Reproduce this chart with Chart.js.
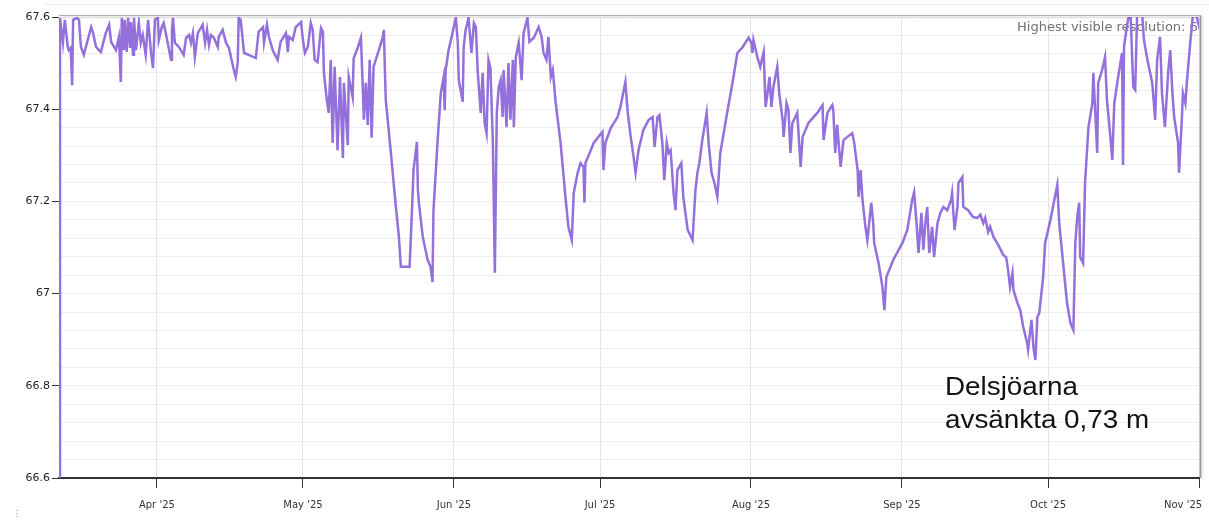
<!DOCTYPE html>
<html>
<head>
<meta charset="utf-8">
<script src="https://cdn.jsdelivr.net/npm/chart.js@4/dist/chart.umd.min.js"></script>
<style>
html, body { margin: 0; padding: 0; background: #fff; overflow: hidden; }
#wrap { position: relative; width: 1209px; height: 521px; }
</style>
</head>
<body>
<div id="wrap"><canvas id="nivaChart" width="1209" height="521"></canvas></div>
<script>
// dag på året 2025 (1 jan = 0)
const dagar = [
70.1,70.1,70.7,71.1,71.7,71.9,72.3,72.6,72.8,73.6,
74.0,74.4,75.0,75.8,76.5,76.9,77.5,78.5,79.5,80.2,
80.6,81.6,82.2,82.6,82.8,83.2,83.4,83.8,84.1,84.5,
84.7,85.1,85.3,85.7,86.3,86.7,87.1,87.7,88.2,88.8,
89.2,89.6,90.2,90.4,91.0,91.4,91.9,92.9,93.1,93.3,
93.7,94.5,95.5,96.0,96.6,97.0,97.4,97.8,98.4,98.8,
99.4,99.9,100.3,100.7,101.1,101.7,102.5,102.7,103.5,104.2,
104.8,105.8,106.2,106.6,106.8,107.2,107.9,110.3,110.9,111.8,
112.0,112.6,113.0,113.8,114.8,115.4,116.5,116.9,117.1,117.9,
118.5,119.6,120.0,120.4,121.0,121.6,122.0,122.4,123.0,123.7,
124.1,124.3,124.9,125.3,125.7,126.1,126.5,127.1,127.6,128.2,
128.4,129.2,129.4,130.2,130.4,131.3,131.9,132.3,132.5,132.9,
133.3,133.7,134.1,134.5,135.4,135.8,136.4,136.6,137.0,138.0,
139.0,139.7,140.1,141.1,141.9,142.5,142.7,143.4,143.6,143.8,
144.6,145.6,146.2,146.6,146.8,147.7,148.3,148.9,149.1,149.3,
149.9,150.7,151.4,151.8,152.0,152.8,153.0,153.4,154.0,154.6,
155.1,155.5,155.9,156.5,156.9,157.3,157.7,158.1,158.5,159.0,
159.4,159.8,160.2,160.6,161.0,161.2,161.8,162.2,162.6,163.1,
163.3,163.7,164.3,164.9,165.3,166.1,166.5,167.4,168.4,169.0,
169.4,170.0,170.4,170.9,171.3,171.9,172.9,173.9,174.5,175.2,
175.6,176.4,177.0,177.6,177.8,178.0,179.1,179.7,181.5,181.7,
182.1,183.2,184.6,185.2,186.2,186.7,187.3,187.9,188.3,188.9,
189.9,191.0,191.8,192.2,192.8,193.2,193.8,194.2,194.7,195.1,
195.5,196.1,196.5,196.9,197.7,198.1,199.0,200.0,200.6,201.0,
201.4,202.0,202.9,203.3,203.9,204.5,205.1,205.7,207.2,208.2,
209.2,210.3,211.5,212.1,212.3,212.5,213.3,213.9,214.6,215.0,
215.4,215.8,216.2,216.6,217.4,217.8,218.5,218.7,219.3,219.7,
220.1,220.5,221.5,222.2,222.6,223.8,225.6,226.7,226.9,227.7,
228.7,228.9,229.3,229.7,230.4,231.0,231.8,232.8,233.2,233.9,
234.1,234.5,234.9,235.5,235.9,236.7,237.1,237.3,238.2,239.0,
239.4,239.8,241.2,243.1,244.1,245.1,245.5,246.0,246.4,247.0,
247.4,247.8,248.2,248.6,249.2,249.6,250.3,250.9,251.5,252.3,
253.1,253.3,253.8,254.4,254.6,255.4,255.6,256.6,257.6,258.5,
259.1,259.7,260.1,260.7,261.1,261.8,262.8,263.8,264.4,264.8,
265.2,265.7,265.9,266.7,267.3,267.9,268.7,268.9,269.6,270.0,
270.4,270.8,271.2,272.0,272.4,273.5,274.9,275.3,276.1,276.9,
277.6,278.2,278.6,279.0,279.4,279.6,280.2,280.6,281.3,282.1,
282.3,282.7,283.1,283.3,284.1,284.7,285.1,285.8,286.2,286.6,
287.4,288.2,288.4,288.6,289.3,289.9,290.5,290.9,291.3,292.3,
292.7,293.4,294.4,295.0,295.4,296.0,296.4,297.0,297.7,298.1,
298.5,298.9,299.7,299.9,300.5,300.7,301.2,301.6,302.2,302.8,
303.6,304.2
];

// vattennivå (m)
const niva = [
66.600,67.598,67.544,67.594,67.535,67.528,67.533,67.452,67.594,67.598,
67.594,67.535,67.518,67.550,67.578,67.565,67.535,67.524,67.565,67.583,
67.546,67.528,67.557,67.459,67.598,67.528,67.594,67.524,67.598,67.533,
67.589,67.518,67.598,67.528,67.587,67.544,67.561,67.518,67.594,67.522,
67.489,67.594,67.598,67.550,67.578,67.587,67.561,67.507,67.572,67.598,
67.544,67.535,67.518,67.555,67.561,67.544,67.565,67.513,67.565,67.572,
67.583,67.544,67.572,67.539,67.561,67.555,67.535,67.557,67.572,67.544,
67.533,67.485,67.470,67.500,67.598,67.594,67.522,67.511,67.568,67.578,
67.544,67.583,67.557,67.528,67.507,67.546,67.565,67.524,67.557,67.550,
67.578,67.589,67.550,67.522,67.535,67.587,67.572,67.507,67.502,67.576,
67.568,67.479,67.420,67.392,67.507,67.327,67.492,67.311,67.470,67.294,
67.457,67.322,67.470,67.426,67.510,67.535,67.555,67.442,67.377,67.457,
67.366,67.507,67.338,67.492,67.522,67.535,67.557,67.572,67.420,67.311,
67.197,67.123,67.058,67.058,67.058,67.210,67.268,67.329,67.225,67.197,
67.123,67.073,67.058,67.025,67.181,67.340,67.435,67.470,67.398,67.485,
67.528,67.565,67.598,67.544,67.463,67.416,67.535,67.572,67.598,67.522,
67.587,67.578,67.479,67.392,67.479,67.370,67.348,67.507,67.489,67.327,
67.045,67.392,67.448,67.463,67.383,67.485,67.361,67.500,67.377,67.507,
67.361,67.513,67.544,67.463,67.565,67.598,67.546,67.555,67.578,67.557,
67.522,67.507,67.557,67.470,67.485,67.413,67.327,67.210,67.145,67.116,
67.218,67.262,67.283,67.275,67.197,67.283,67.311,67.327,67.351,67.268,
67.327,67.359,67.383,67.405,67.459,67.392,67.340,67.296,67.262,67.311,
67.355,67.377,67.383,67.318,67.383,67.387,67.327,67.246,67.327,67.305,
67.311,67.218,67.181,67.268,67.283,67.210,67.138,67.116,67.225,67.262,
67.283,67.333,67.392,67.327,67.262,67.240,67.210,67.305,67.398,67.457,
67.522,67.535,67.555,67.544,67.522,67.550,67.513,67.492,67.524,67.405,
67.435,67.470,67.405,67.448,67.492,67.435,67.377,67.340,67.413,67.398,
67.305,67.370,67.392,67.275,67.340,67.370,67.392,67.409,67.333,67.392,
67.409,67.398,67.305,67.366,67.275,67.333,67.340,67.348,67.327,67.268,
67.210,67.268,67.203,67.145,67.116,67.197,67.153,67.110,67.066,67.014,
66.964,67.036,67.073,67.110,67.138,67.203,67.220,67.153,67.088,67.175,
67.095,67.153,67.188,67.088,67.145,67.079,67.153,67.175,67.188,67.181,
67.203,67.218,67.138,67.188,67.240,67.253,67.188,67.181,67.166,67.164,
67.171,67.153,67.164,67.134,67.145,67.123,67.105,67.084,67.079,67.051,
67.014,67.045,67.008,66.980,66.964,66.928,66.893,66.878,66.943,66.884,
66.856,66.949,66.958,67.036,67.110,67.160,67.236,67.153,67.066,66.980,
66.936,66.921,67.110,67.166,67.197,67.079,67.066,67.240,67.361,67.413,
67.479,67.392,67.305,67.457,67.485,67.513,67.420,67.340,67.290,67.413,
67.470,67.522,67.279,67.535,67.587,67.620,67.448,67.442,67.610,67.610,
67.550,67.507,67.457,67.377,67.507,67.557,67.435,67.361,67.485,67.528,
67.442,67.383,67.327,67.262,67.383,67.435,67.413,67.470,67.544,67.610,
67.598,67.572
];

// månadsstart (dag på året) och etiketter
const manadStart = [90, 120, 151, 181, 212, 243, 273, 304];
const manadEtiketter = ["Apr '25", "May '25", "Jun '25", "Jul '25", "Aug '25", "Sep '25", "Oct '25", "Nov '25"];

// y-axelns etiketter och rutnät
const nivaEtiketter = [66.6, 66.8, 67, 67.2, 67.4, 67.6];
const nivaMin = 66.6;
const nivaMax = 67.6;
const rutSteg = 0.04;

const punkter = [];
for (let i = 0; i < Math.min(dagar.length, niva.length); i++) {
    punkter.push({ x: dagar[i], y: niva[i] });
}

function arEtikett(v) {
    return nivaEtiketter.some(e => Math.abs(e - v) < 1e-6);
}

const ramPlugin = {
    id: 'ram',
    beforeDatasetsDraw(chart) {
        const ctx = chart.ctx;
        const a = chart.chartArea;
        ctx.save();
        ctx.beginPath();
        ctx.rect(a.left, a.top, a.right - a.left, a.bottom - a.top);
        ctx.clip();
        ctx.fillStyle = '#707070';
        ctx.font = '13px "DejaVu Sans"';
        ctx.textBaseline = 'middle';
        ctx.textAlign = 'left';
        ctx.fillText('Highest visible resolution: 6 h', 1017, 28);
        ctx.restore();
    },
    afterDraw(chart) {
        const ctx = chart.ctx;
        const a = chart.chartArea;
        ctx.save();
        // svag linje överst
        ctx.strokeStyle = '#ececec';
        ctx.lineWidth = 1;
        ctx.beginPath();
        ctx.moveTo(45, 4.5);
        ctx.lineTo(1209, 4.5);
        ctx.stroke();
        // ram upptill och till höger
        ctx.shadowColor = 'rgba(0,0,0,0.25)';
        ctx.shadowBlur = 3;
        ctx.shadowOffsetX = 1;
        ctx.shadowOffsetY = 1;
        ctx.strokeStyle = '#b0b0b0';
        ctx.beginPath();
        ctx.moveTo(a.left, a.top - 1.5);
        ctx.lineTo(a.right + 1.5, a.top - 1.5);
        ctx.stroke();
        ctx.strokeStyle = '#999';
        ctx.lineWidth = 1.5;
        ctx.beginPath();
        ctx.moveTo(a.right + 1.5, a.top - 1.5);
        ctx.lineTo(a.right + 1.5, a.bottom);
        ctx.stroke();
        ctx.restore();

        // kommentar
        ctx.save();
        ctx.fillStyle = '#111';
        ctx.font = '26px "Liberation Sans"';
        ctx.textAlign = 'left';
        ctx.textBaseline = 'alphabetic';
        ctx.translate(945, 0);
        ctx.scale(1.07, 1);
        ctx.fillText('Delsjöarna', 0, 395);
        ctx.fillText('avsänkta 0,73 m', 0, 428);
        ctx.restore();

        ctx.save();
        ctx.fillStyle = '#999';
        ctx.font = '9px "DejaVu Sans"';
        ctx.textAlign = 'center';
        ctx.fillText('⋮', 17, 516);
        ctx.restore();
    }
};

new Chart(document.getElementById('nivaChart'), {
    type: 'line',
    data: {
        datasets: [{
            label: 'Nivå',
            data: punkter,
            borderColor: 'rgb(147, 112, 219)',
            borderWidth: 2.5,
            pointRadius: 0,
            tension: 0,
            fill: false
        }]
    },
    options: {
        responsive: false,
        devicePixelRatio: 1,
        animation: false,
        layout: { padding: { top: 17, right: 10, left: 0, bottom: 0 } },
        plugins: {
            legend: { display: false },
            tooltip: { enabled: false }
        },
        scales: {
            x: {
                type: 'linear',
                min: 69.9,
                max: 304,
                afterBuildTicks: s => { s.ticks = manadStart.map(v => ({ value: v })); },
                afterFit: s => { s.height = 43; s.paddingLeft = 0; s.paddingRight = 0; },
                ticks: {
                    autoSkip: false,
                    maxRotation: 0,
                    padding: 11,
                    color: '#333',
                    font: { family: 'DejaVu Sans', size: 10 },
                    // sista etiketten ligger kant i kant med högerkanten
                    callback: (v, i) => {
                        const t = manadEtiketter[manadStart.indexOf(v)];
                        return i === manadStart.length - 1 ? t + '          ' : t;
                    }
                },
                grid: { color: '#e4e4e4', tickColor: '#333', tickLength: 10, lineWidth: 1 },
                border: { color: '#333', width: 2 }
            },
            y: {
                type: 'linear',
                min: nivaMin,
                max: nivaMax,
                afterBuildTicks: s => {
                    const t = [];
                    for (let i = 0; i <= Math.round((nivaMax - nivaMin) / rutSteg); i++) {
                        t.push({ value: +(nivaMin + i * rutSteg).toFixed(2) });
                    }
                    s.ticks = t;
                },
                afterFit: s => { s.width = 59; s.paddingTop = 0; s.paddingBottom = 0; },
                ticks: {
                    autoSkip: false,
                    padding: 2,
                    color: '#222',
                    font: { family: 'DejaVu Sans', size: 11 },
                    callback: v => arEtikett(v) ? String(+v.toFixed(1)) : ''
                },
                grid: {
                    color: '#ededed',
                    lineWidth: 1,
                    tickLength: 7,
                    tickColor: c => (c.tick && arEtikett(c.tick.value)) ? '#333' : 'rgba(0,0,0,0)'
                },
                border: { display: false }
            }
        }
    },
    plugins: [ramPlugin]
});
</script>
</body>
</html>
